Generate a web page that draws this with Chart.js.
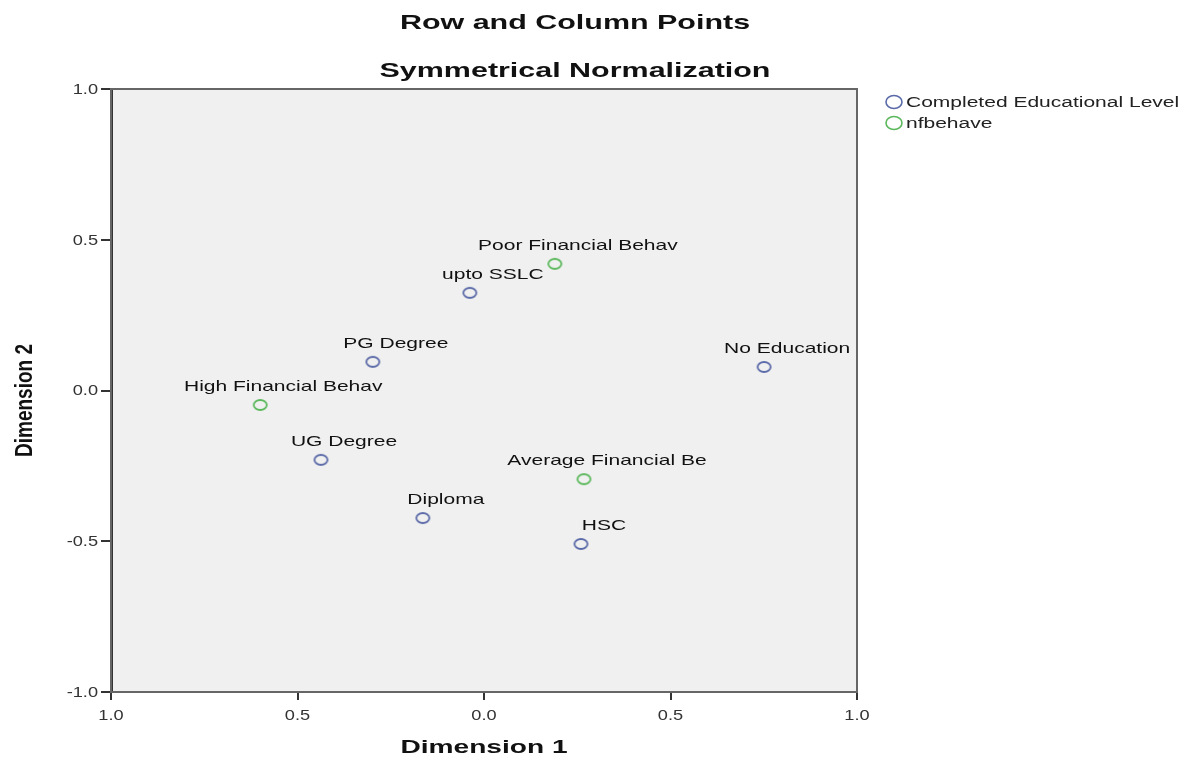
<!DOCTYPE html>
<html>
<head>
<meta charset="utf-8">
<script src="https://cdn.jsdelivr.net/npm/chart.js@4"></script>
<style>
    html, body { margin: 0; padding: 0; background: #ffffff; }
    #wrap { width: 1192px; height: 764px; position: relative; }
</style>
</head>
<body>
<div id="wrap"><canvas id="chart" width="1192" height="764"></canvas></div>
<script>
var eduLabels = ['upto SSLC', 'PG Degree', 'No Education', 'UG Degree', 'Diploma', 'HSC'];
var eduX = [-0.038, -0.298, 0.751, -0.437, -0.164, 0.260];
var eduY = [0.324, 0.095, 0.078, -0.230, -0.423, -0.509];

var behLabels = ['Poor Financial Behav', 'High Financial Behav', 'Average Financial Be'];
var behX = [0.190, -0.600, 0.268];
var behY = [0.420, -0.048, -0.294];

var seriesNames = ['Completed Educational Level', 'nfbehave'];
var seriesColors = ['#5b6aa8', '#5cb85c'];
var tickValues = [-1.0, -0.5, 0.0, 0.5, 1.0];

var FONT = '"Liberation Sans", Arial, sans-serif';
// the original picture is stretched sideways, so text is drawn wider than tall
var STRETCH = 1.48;

function toPoints(xs, ys, labels) {
    return xs.map(function(x, i) {
        return { x: x, y: ys[i], label: labels[i] };
    });
}

function wideText(ctx, text, x, y, sx) {
    ctx.save();
    ctx.translate(x, y);
    ctx.scale(sx, 1);
    ctx.fillText(text, 0, 0);
    ctx.restore();
}

function ringMarker(color, w, h) {
    var c = document.createElement('canvas');
    c.width = w + 4;
    c.height = h + 4;
    var g = c.getContext('2d');
    g.strokeStyle = color;
    g.lineWidth = 1.8;
    g.beginPath();
    g.ellipse(c.width / 2, c.height / 2, w / 2, h / 2, 0, 0, Math.PI * 2);
    g.stroke();
    return c;
}

var plotFrame = {
    id: 'plotFrame',
    beforeDraw: function(chart) {
        var a = chart.chartArea, ctx = chart.ctx;
        ctx.save();
        ctx.fillStyle = '#f0f0f0';
        ctx.fillRect(a.left, a.top, a.right - a.left, a.bottom - a.top);
        ctx.restore();
    },
    afterDraw: function(chart) {
        var a = chart.chartArea, ctx = chart.ctx;
        var xs = chart.scales.x, ys = chart.scales.y;
        ctx.save();
        ctx.strokeStyle = '#666666';
        ctx.lineWidth = 2;
        ctx.strokeRect(a.left, a.top, a.right - a.left, a.bottom - a.top);

        // title
        ctx.fillStyle = '#111111';
        ctx.font = 'bold 21px ' + FONT;
        ctx.textAlign = 'center';
        ctx.textBaseline = 'middle';
        wideText(ctx, 'Row and Column Points', 575, 23, 1.45);
        wideText(ctx, 'Symmetrical Normalization', 575, 71, 1.45);

        // tick labels
        ctx.fillStyle = '#333333';
        ctx.font = '14px ' + FONT;
        tickValues.forEach(function(v) {
            ctx.textAlign = 'center';
            wideText(ctx, Math.abs(v).toFixed(1), xs.getPixelForValue(v), a.bottom + 24, 1.3);
            ctx.textAlign = 'right';
            wideText(ctx, v.toFixed(1), a.left - 13, ys.getPixelForValue(v) + 1, 1.3);
        });

        // axis titles
        ctx.fillStyle = '#111111';
        ctx.font = 'bold 19px ' + FONT;
        ctx.textAlign = 'center';
        wideText(ctx, 'Dimension 1', (a.left + a.right) / 2, 748, STRETCH);
        ctx.save();
        ctx.translate(25, (a.top + a.bottom) / 2 + 10);
        ctx.scale(1.3, 1);
        ctx.rotate(-Math.PI / 2);
        ctx.fillText('Dimension 2', 0, 0);
        ctx.restore();

        // legend
        ctx.font = '14px ' + FONT;
        ctx.textAlign = 'left';
        seriesNames.forEach(function(name, i) {
            var y = 102 + i * 21;
            ctx.beginPath();
            ctx.strokeStyle = seriesColors[i];
            ctx.lineWidth = 1.6;
            ctx.ellipse(894, y, 8, 6.5, 0, 0, Math.PI * 2);
            ctx.stroke();
            ctx.fillStyle = '#222222';
            wideText(ctx, name, 906, y + 1, 1.5);
        });
        ctx.restore();
    }
};

var pointLabels = {
    id: 'pointLabels',
    afterDatasetsDraw: function(chart) {
        var ctx = chart.ctx, a = chart.chartArea;
        ctx.save();
        ctx.beginPath();
        ctx.rect(a.left, a.top, a.right - a.left, a.bottom - a.top);
        ctx.clip();
        ctx.font = '15px ' + FONT;
        ctx.fillStyle = '#111111';
        ctx.textAlign = 'center';
        ctx.textBaseline = 'middle';
        chart.data.datasets.forEach(function(ds, di) {
            var meta = chart.getDatasetMeta(di);
            meta.data.forEach(function(el, i) {
                wideText(ctx, ds.data[i].label, el.x + 23, el.y - 18, 1.4);
            });
        });
        ctx.restore();
    }
};

var ctx = document.getElementById('chart').getContext('2d');
new Chart(ctx, {
    type: 'scatter',
    data: {
        datasets: [{
            label: seriesNames[0],
            data: toPoints(eduX, eduY, eduLabels),
            pointStyle: ringMarker(seriesColors[0], 13, 10),
            pointRadius: 6
        }, {
            label: seriesNames[1],
            data: toPoints(behX, behY, behLabels),
            pointStyle: ringMarker(seriesColors[1], 13, 10),
            pointRadius: 6
        }]
    },
    options: {
        responsive: false,
        animation: false,
        layout: {
            padding: { left: 0, right: 335, top: 89, bottom: 0 }
        },
        plugins: {
            legend: { display: false },
            title: { display: false },
            tooltip: { enabled: false }
        },
        scales: {
            x: {
                type: 'linear',
                min: -1,
                max: 1,
                afterBuildTicks: function(scale) {
                    scale.ticks = tickValues.map(function(v) { return { value: v }; });
                },
                afterFit: function(scale) { scale.height = 72; },
                ticks: { display: false },
                grid: {
                    drawOnChartArea: false,
                    drawTicks: true,
                    tickLength: 8,
                    color: '#333333',
                    lineWidth: 2
                },
                border: { display: true, color: '#333333', width: 2 }
            },
            y: {
                type: 'linear',
                min: -1,
                max: 1,
                afterBuildTicks: function(scale) {
                    scale.ticks = tickValues.map(function(v) { return { value: v }; });
                },
                afterFit: function(scale) { scale.width = 111; },
                ticks: { display: false },
                grid: {
                    drawOnChartArea: false,
                    drawTicks: true,
                    tickLength: 10,
                    color: '#333333',
                    lineWidth: 2
                },
                border: { display: true, color: '#333333', width: 3 }
            }
        }
    },
    plugins: [plotFrame, pointLabels]
});
</script>
</body>
</html>
